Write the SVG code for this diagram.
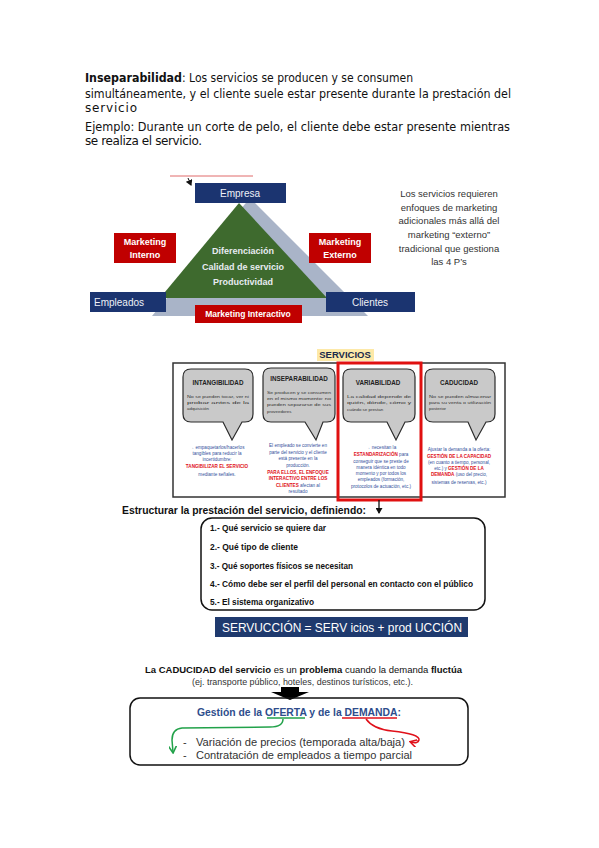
<svg xmlns="http://www.w3.org/2000/svg" width="599" height="848" viewBox="0 0 599 848">
<style>
.body{font-family:"DejaVu Sans",sans-serif;font-size:12px;fill:#111}
.cal{font-family:"Liberation Sans",Arial,sans-serif}
.navy{fill:#1b3470}
.redbox{fill:#c00000}
.wt{fill:#fff;font-family:"Liberation Sans",Arial,sans-serif;font-weight:bold;text-anchor:middle}
.wn{fill:#eef1f7;font-family:"Liberation Sans",Arial,sans-serif;font-size:10px}
.tri{fill:#e8ecf2;font-family:"Liberation Sans",Arial,sans-serif;font-weight:bold;font-size:9px;text-anchor:middle}
.bub{fill:#c9c9c9;stroke:#2b2b2b;stroke-width:1.2}
.bt{font-family:"Liberation Sans",Arial,sans-serif;font-weight:bold;font-size:6.3px;fill:#222;text-anchor:middle}
.bb{font-family:"Liberation Sans",Arial,sans-serif;font-size:4.4px;fill:#333}
.bl{font-family:"Liberation Sans",Arial,sans-serif;font-size:4.6px;fill:#34509c;text-anchor:middle}
.rd{fill:#e0101a;font-weight:bold}
.li{font-family:"Liberation Sans",Arial,sans-serif;font-weight:bold;font-size:8.3px;fill:#111}
</style>
<defs>
<marker id="ga" markerWidth="8" markerHeight="8" refX="6" refY="4" orient="auto" markerUnits="userSpaceOnUse"><path d="M0,0 L7,4 L0,8" fill="none" stroke="#22a24a" stroke-width="1.6"/></marker>
<marker id="ra" markerWidth="8" markerHeight="8" refX="6" refY="4" orient="auto" markerUnits="userSpaceOnUse"><path d="M0,0 L7,4 L0,8" fill="none" stroke="#e0101a" stroke-width="1.6"/></marker>
<marker id="ka" markerWidth="7" markerHeight="7" refX="5" refY="3.5" orient="auto" markerUnits="userSpaceOnUse"><path d="M0,0 L6,3.5 L0,7 Z" fill="#111"/></marker>
<clipPath id="sc"><rect x="310" y="349" width="70" height="14"/></clipPath>
</defs>
<rect width="599" height="848" fill="#fff"/>

<g id="intro">
<text class="body" x="85" y="82" font-weight="bold" textLength="97" lengthAdjust="spacingAndGlyphs">Inseparabilidad</text>
<text class="body" x="182" y="82" textLength="231" lengthAdjust="spacingAndGlyphs">: Los servicios se producen y se consumen</text>
<text class="body" x="85" y="98" textLength="426" lengthAdjust="spacingAndGlyphs">simultáneamente, y el cliente suele estar presente durante la prestación del</text>
<text class="body" x="85" y="112" textLength="52" lengthAdjust="spacing">servicio</text>
<text class="body" x="85" y="131" textLength="425" lengthAdjust="spacingAndGlyphs">Ejemplo: Durante un corte de pelo, el cliente debe estar presente mientras</text>
<text class="body" x="85" y="145" textLength="117" lengthAdjust="spacing">se realiza el servicio.</text>
</g>

<g id="triangle-diagram">
<line x1="170" y1="176" x2="253" y2="176" stroke="#e06a6a" stroke-width="1"/>
<line x1="188" y1="178" x2="191" y2="185" stroke="#111" stroke-width="1" marker-end="url(#ka)"/>
<polygon points="250,198 152,316 368,316" fill="#a9b4c8"/>
<polygon points="239,203 160,298 327,298" fill="#3e6a2e"/>
<text class="tri" x="243" y="254">Diferenciación</text>
<text class="tri" x="243" y="270">Calidad de servicio</text>
<text class="tri" x="243" y="285">Productividad</text>
<g id="empresa"><rect class="navy" x="195" y="183" width="91" height="20"/><text class="wn" x="240" y="197" text-anchor="middle">Empresa</text></g>
<g id="mk-interno"><rect class="redbox" x="114" y="233" width="62" height="30"/><text class="wt" x="145" y="245" font-size="9">Marketing</text><text class="wt" x="145" y="258" font-size="9">Interno</text></g>
<g id="mk-externo"><rect class="redbox" x="309" y="233" width="62" height="30"/><text class="wt" x="340" y="245" font-size="9">Marketing</text><text class="wt" x="340" y="258" font-size="9">Externo</text></g>
<g id="empleados"><rect class="navy" x="90" y="292" width="76" height="20"/><text class="wn" x="94" y="306">Empleados</text></g>
<g id="clientes"><rect class="navy" x="326" y="292" width="89" height="20"/><text class="wn" x="370" y="306" text-anchor="middle">Clientes</text></g>
<g id="mk-interactivo"><rect class="redbox" x="195" y="305" width="107" height="18"/><text class="wt" x="248" y="317" font-size="8.5">Marketing Interactivo</text></g>
<g id="note" class="cal" font-size="9.5" fill="#333" text-anchor="middle">
<text x="449" y="197">Los servicios requieren</text>
<text x="449" y="211">enfoques de marketing</text>
<text x="449" y="224">adicionales más allá del</text>
<text x="449" y="238">marketing “externo”</text>
<text x="449" y="252">tradicional que gestiona</text>
<text x="449" y="265">las 4 P’s</text>
</g>
</g>

<g id="servicios-panel">
<rect x="317" y="349" width="57" height="12" fill="#fde9a8"/>
<text clip-path="url(#sc)" x="345" y="358" class="cal" font-weight="bold" font-size="9.5" fill="#1b2a4a" text-anchor="middle">SERVICIOS</text>
<rect x="173" y="363" width="332" height="134" fill="none" stroke="#333" stroke-width="1.5"/>

<g id="intangibilidad">
<path class="bub" d="M191,369 H245 Q253,369 253,377 V414 Q253,422 245,422 H242 L232,440 L223,422 H191 Q183,422 183,414 V377 Q183,369 191,369 Z"/>
<text class="bt" x="218" y="385">INTANGIBILIDAD</text>
<text class="bb" x="187" y="398" textLength="62" lengthAdjust="spacingAndGlyphs">No se pueden tocar, ver ni</text>
<text class="bb" x="187" y="404" textLength="62" lengthAdjust="spacingAndGlyphs">probar antes de la</text>
<text class="bb" x="187" y="410">adquisición</text>
<text class="bl" x="217" y="449">→ empaquetarlos/hacerlos</text>
<text class="bl" x="217" y="455">tangibles para reducir la</text>
<text class="bl" x="217" y="461">incertidumbre:</text>
<text class="bl rd" x="217" y="468">TANGIBILIZAR EL SERVICIO</text>
<text class="bl" x="217" y="476">mediante señales.</text>
</g>

<g id="inseparabilidad">
<path class="bub" d="M271,368 H327 Q335,368 335,376 V414 Q335,422 327,422 H323 L316,440 L305,422 H271 Q263,422 263,414 V376 Q263,368 271,368 Z"/>
<text class="bt" x="299" y="381">INSEPARABILIDAD</text>
<text class="bb" x="267" y="394" textLength="64" lengthAdjust="spacingAndGlyphs">Se producen y se consumen</text>
<text class="bb" x="267" y="400" textLength="64" lengthAdjust="spacingAndGlyphs">en el mismo momento: no</text>
<text class="bb" x="267" y="406" textLength="64" lengthAdjust="spacingAndGlyphs">pueden separarse de sus</text>
<text class="bb" x="267" y="413">proveedores</text>
<text class="bl" x="298" y="447">El empleado se convierte en</text>
<text class="bl" x="298" y="454">parte del servicio y el cliente</text>
<text class="bl" x="298" y="460">está presente en la</text>
<text class="bl" x="298" y="467">producción.</text>
<text class="bl rd" x="298" y="474">PARA ELLOS, EL ENFOQUE</text>
<text class="bl rd" x="298" y="480">INTERACTIVO ENTRE LOS</text>
<text class="bl" x="298" y="487"><tspan class="rd">CLIENTES</tspan> afectan al</text>
<text class="bl" x="298" y="493">resultado</text>
</g>

<g id="variabilidad">
<path class="bub" d="M351,369 H407 Q415,369 415,377 V414 Q415,422 407,422 H405 L396,440 L387,422 H351 Q343,422 343,414 V377 Q343,369 351,369 Z"/>
<text class="bt" x="378" y="385">VARIABILIDAD</text>
<text class="bb" x="347" y="398" textLength="64" lengthAdjust="spacingAndGlyphs">La calidad depende de</text>
<text class="bb" x="347" y="404" textLength="64" lengthAdjust="spacingAndGlyphs">quién, dónde, cómo y</text>
<text class="bb" x="347" y="411">cuándo se prestan</text>
<text class="bl" x="381" y="449">→ necesitan la</text>
<text class="bl" x="381" y="456"><tspan class="rd">ESTANDARIZACIÓN</tspan> para</text>
<text class="bl" x="381" y="463">conseguir que se preste de</text>
<text class="bl" x="381" y="469">manera idéntica en todo</text>
<text class="bl" x="381" y="475">momento y por todos los</text>
<text class="bl" x="381" y="481">empleados (formación,</text>
<text class="bl" x="381" y="488">protocolos de actuación, etc.)</text>
</g>

<g id="caducidad">
<path class="bub" d="M433,369 H487 Q495,369 495,377 V414 Q495,422 487,422 H486 L476,440 L468,422 H433 Q425,422 425,414 V377 Q425,369 433,369 Z"/>
<text class="bt" x="459" y="385">CADUCIDAD</text>
<text class="bb" x="429" y="398" textLength="62" lengthAdjust="spacingAndGlyphs">No se pueden almacenar</text>
<text class="bb" x="429" y="404" textLength="62" lengthAdjust="spacingAndGlyphs">para su venta o utilización</text>
<text class="bb" x="429" y="410">posterior</text>
<text class="bl" x="459" y="451">Ajustar la demanda a la oferta:</text>
<text class="bl rd" x="459" y="458">GESTIÓN DE LA CAPACIDAD</text>
<text class="bl" x="459" y="464">(en cuanto a tiempo, personal,</text>
<text class="bl" x="459" y="470">etc.) y <tspan class="rd">GESTIÓN DE LA</tspan></text>
<text class="bl" x="459" y="476"><tspan class="rd">DEMANDA</tspan> (uso del precio,</text>
<text class="bl" x="459" y="484">sistemas de reservas, etc.)</text>
</g>

<rect x="338" y="363" width="83" height="137" fill="none" stroke="#e01010" stroke-width="3"/>
</g>

<g id="connectors">
<line x1="379" y1="500" x2="379" y2="513" stroke="#111" stroke-width="1.3" marker-end="url(#ka)"/>
<polygon points="281,687 299,687 299,692 309,692 290,700 271,692 281,692" fill="#000"/>
<path d="M267,718 H305" stroke="#22a24a" stroke-width="1.3" fill="none"/>
<path d="M342,718 H397" stroke="#e0101a" stroke-width="1.3" fill="none"/>
<path d="M283,719 Q283,727 270,727 L182,728 Q172,729 172,740 L173,752" stroke="#22a24a" stroke-width="1.5" fill="none" marker-end="url(#ga)"/>
<path d="M366,719 Q373,729 392,731 Q420,734 419,740 Q418,744 411,742" stroke="#e0101a" stroke-width="1.5" fill="none" marker-end="url(#ra)"/>
</g>

<g id="estructurar">
<text class="cal" x="122" y="514" font-weight="bold" font-size="11" fill="#111" textLength="244" lengthAdjust="spacingAndGlyphs">Estructurar la prestación del servicio, definiendo:</text>
<rect x="201" y="518" width="284" height="92" rx="11" fill="none" stroke="#111" stroke-width="1.5"/>
<text class="li" x="210" y="531" textLength="116" lengthAdjust="spacingAndGlyphs">1.- Qué servicio se quiere dar</text>
<text class="li" x="210" y="550" textLength="88" lengthAdjust="spacingAndGlyphs">2.- Qué tipo de cliente</text>
<text class="li" x="210" y="569" textLength="143" lengthAdjust="spacingAndGlyphs">3.- Qué soportes físicos se necesitan</text>
<text class="li" x="210" y="587" textLength="263" lengthAdjust="spacingAndGlyphs">4.- Cómo debe ser el perfil del personal en contacto con el público</text>
<text class="li" x="210" y="605" textLength="104" lengthAdjust="spacingAndGlyphs">5.- El sistema organizativo</text>
</g>

<g id="servuccion">
<rect x="215" y="617" width="253" height="20" fill="#1f3a6e"/>
<text class="cal" x="222" y="632" font-size="13" fill="#fff" textLength="240" lengthAdjust="spacingAndGlyphs">SERVUCCIÓN = SERV icios + prod UCCIÓN</text>
</g>

<g id="caducidad-nota">
<text class="cal" x="145" y="673" font-size="9.5" fill="#111" textLength="317" lengthAdjust="spacingAndGlyphs"><tspan font-weight="bold">La CADUCIDAD del servicio</tspan> es un <tspan font-weight="bold">problema</tspan> cuando la demanda <tspan font-weight="bold">fluctúa</tspan></text>
<text class="cal" x="192" y="685" font-size="9" fill="#333" textLength="221" lengthAdjust="spacingAndGlyphs">(ej. transporte público, hoteles, destinos turísticos, etc.).</text>
</g>

<g id="gestion">
<rect x="130" y="698" width="338" height="67" rx="10" fill="none" stroke="#111" stroke-width="1.5"/>
<text class="cal" x="197" y="716" font-size="11" font-weight="bold" fill="#2e4d8c" textLength="204" lengthAdjust="spacingAndGlyphs">Gestión de la OFERTA y de la DEMANDA:</text>
<text class="cal" x="183" y="746" font-size="11" fill="#333">-</text>
<text class="cal" x="183" y="759" font-size="11" fill="#333">-</text>
<text class="cal" x="196" y="746" font-size="11" fill="#333" textLength="209" lengthAdjust="spacingAndGlyphs">Variación de precios (temporada alta/baja)</text>
<text class="cal" x="196" y="759" font-size="11" fill="#333" textLength="216" lengthAdjust="spacingAndGlyphs">Contratación de empleados a tiempo parcial</text>
</g>
</svg>
